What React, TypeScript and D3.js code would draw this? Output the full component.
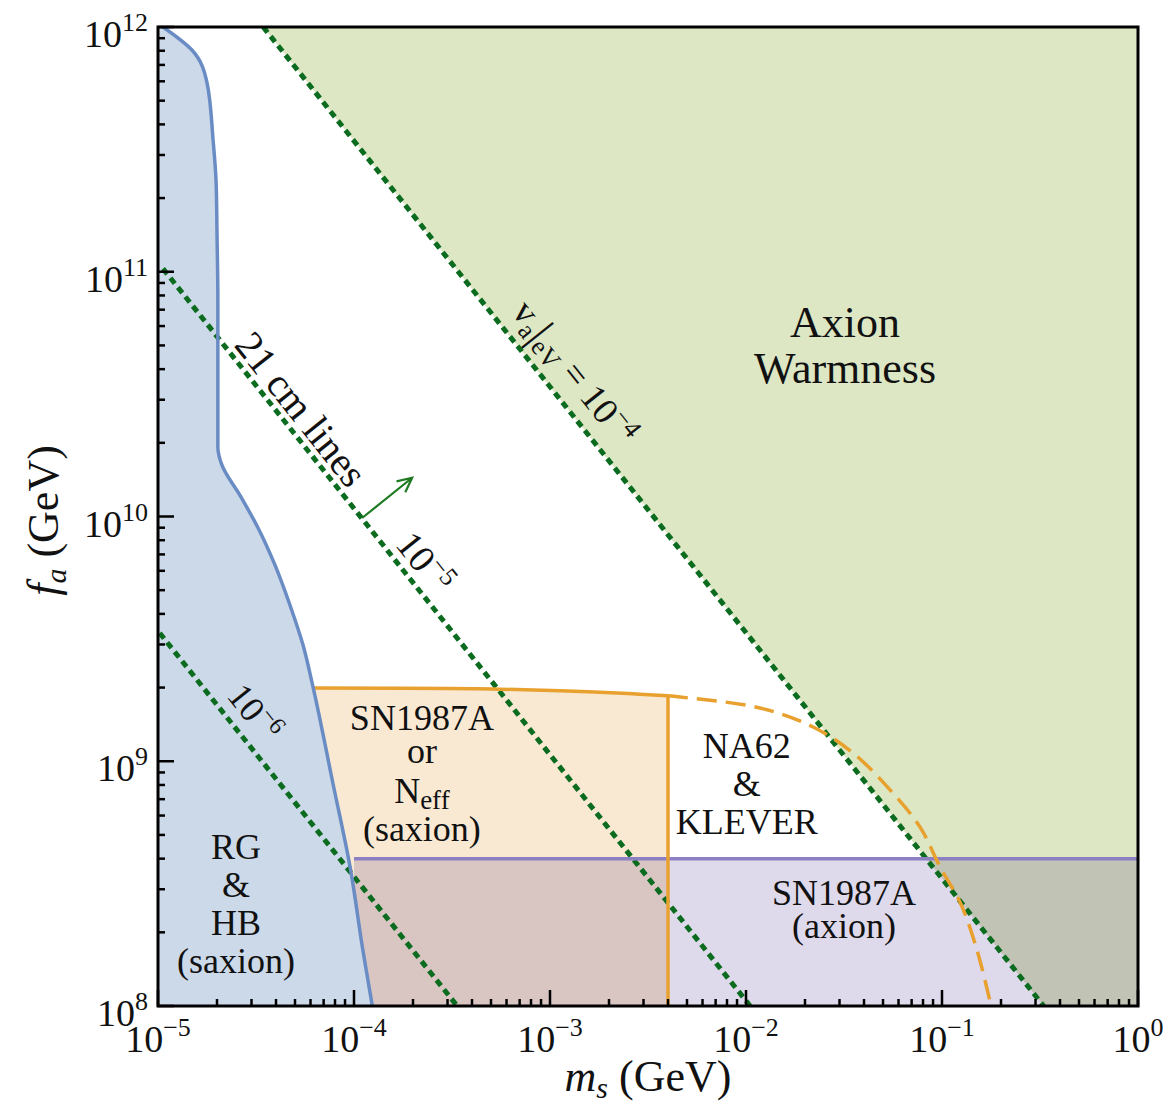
import React from 'react';
import * as d3 from 'd3';

const W = 1168;
const H = 1108;
const plotLeft = 158;
const plotRight = 1138;
const plotTop = 27;
const plotBottom = 1006;

const xTicks = [1e-5, 1e-4, 1e-3, 1e-2, 1e-1, 1];
const xTickExp = ['−5', '−4', '−3', '−2', '−1', '0'];
const yTicks = [1e8, 1e9, 1e10, 1e11, 1e12];
const yTickExp = ['8', '9', '10', '11', '12'];

// RG & HB (saxion) boundary
const rgHbMass = [1.06e-5, 1.49e-5, 1.78e-5, 1.91e-5, 1.98e-5, 2.0e-5, 2.02e-5, 2.02e-5, 2.12e-5, 2.62e-5, 3.24e-5, 3.95e-5, 4.71e-5, 5.49e-5, 6.18e-5, 7.8e-5, 9.55e-5, 1.11e-4, 1.24e-4];
const rgHbFa = [1e12, 8.05e11, 5.9e11, 3.45e11, 2.3e11, 1.44e11, 7.7e10, 1.92e10, 1.62e10, 1.22e10, 8.98e9, 6.34e9, 4.35e9, 2.99e9, 2.01e9, 8.15e8, 3.7e8, 1.69e8, 1e8];

// SN1987A or Neff (saxion) upper edge
const snSaxionMass = [6.18e-5, 5.56e-4, 2.2e-3, 4.0e-3];
const snSaxionFa = [1.99e9, 1.97e9, 1.9e9, 1.85e9];

// NA62 & KLEVER reach (dashed)
const na62Mass = [4.0e-3, 4.6e-3, 1.18e-2, 2.2e-2, 3.52e-2, 5.43e-2, 7.73e-2, 9.77e-2, 1.24e-1, 1.51e-1, 1.78e-1];
const na62Fa = [1.85e9, 1.83e9, 1.65e9, 1.38e9, 1.08e9, 7.64e8, 5.38e8, 3.7e8, 2.64e8, 1.69e8, 1e8];

// SN1987A (axion)
const snAxionMass = [1e-4, 1];
const snAxionFa = [4e8, 1e8];

// 21 cm lines, v_a/eV = 1e-4, 1e-5, 1e-6
const warmMass = [3.44e-5, 0.33];
const warmFa = [1e12, 1e8];
const line5Mass = [1.06e-5, 1.05e-2];
const line5Fa = [1.03e11, 1e8];
const line6Mass = [1.02e-5, 3.36e-4];
const line6Fa = [3.34e9, 1e8];

const arrowMass = [1.1e-4, 1.98e-4];
const arrowFa = [9.86e9, 1.44e10];

const serif = '"Liberation Serif", "Times New Roman", serif';
const dotGreen = '#0b6b1f';

const App = () => {
  const x = d3.scaleLog().domain([1e-5, 1]).range([plotLeft, plotRight]);
  const y = d3.scaleLog().domain([1e8, 1e12]).range([plotBottom, plotTop]);

  const pts = (ms: number[], fa: number[]) => ms.map((m, i) => [x(m), y(fa[i])] as [number, number]);
  const line = d3.line().curve(d3.curveCatmullRom.alpha(0.5));
  const lineY = d3.line().curve(d3.curveMonotoneY);
  const straight = d3.line();

  const rgPts = pts(rgHbMass, rgHbFa);
  const rgCurve = lineY(rgPts as any) as string;
  const rgFill = rgCurve + `L${x(1e-5)},${y(1e8)}L${x(1e-5)},${y(1e12)}Z`;

  const snPts = pts(snSaxionMass, snSaxionFa);
  const snFill = line(snPts as any) + `L${x(4e-3)},${y(1e8)}L${x(6e-5)},${y(1e8)}L${x(6e-5)},${snPts[0][1]}Z`;

  const warmPts = pts(warmMass, warmFa);
  const warmFill = straight([warmPts[0], [x(1), y(1e12)], [x(1), y(1e8)], warmPts[1]] as any) + 'Z';

  const purpleFill = straight([[x(snAxionMass[0]), y(snAxionFa[0])], [x(snAxionMass[1]), y(snAxionFa[0])], [x(snAxionMass[1]), y(snAxionFa[1])], [x(snAxionMass[0]), y(snAxionFa[1])]] as any) + 'Z';

  const dotted = [
    pts(warmMass, warmFa),
    pts(line5Mass, line5Fa),
    pts(line6Mass, line6Fa),
  ];
  const angle = (p: [number, number][]) => (Math.atan2(p[1][1] - p[0][1], p[1][0] - p[0][0]) * 180) / Math.PI;
  const ang = angle(dotted[1]);

  const minorX: number[] = [];
  for (let e = -5; e < 0; e++) for (let k = 2; k < 10; k++) minorX.push(k * Math.pow(10, e));
  const minorY: number[] = [];
  for (let e = 8; e < 12; e++) for (let k = 2; k < 10; k++) minorY.push(k * Math.pow(10, e));

  const a0 = [x(arrowMass[0]), y(arrowFa[0])];
  const a1 = [x(arrowMass[1]), y(arrowFa[1])];
  const aAng = Math.atan2(a1[1] - a0[1], a1[0] - a0[0]);
  const head = (d: number) => [a1[0] - 16 * Math.cos(aAng + d), a1[1] - 16 * Math.sin(aAng + d)];
  const h1 = head(0.45);
  const h2 = head(-0.45);

  const at = (m: number, f: number) => `translate(${x(m)},${y(f)})`;

  const block = (lines: React.ReactNode[], m: number, f: number, gap: number, size: number) => (
    <text transform={at(m, f)} textAnchor="middle" fontSize={size} fontFamily={serif} fill="#111">
      {lines.map((l, i) => (
        <tspan key={i} x={0} y={i * gap}>{l}</tspan>
      ))}
    </text>
  );

  const snX = x(2.22e-4);

  return (
    <svg width={W} height={H} style={{ position: 'absolute', left: 0, top: 0, background: '#fff' }} fontFamily={serif}>
      <defs>
        <clipPath id="plot">
          <rect x={plotLeft} y={plotTop} width={plotRight - plotLeft} height={plotBottom - plotTop} />
        </clipPath>
      </defs>
      <g clipPath="url(#plot)">
        <path d={warmFill} fill="#dde7c4" />
        <path d={snFill} fill="#f9e9d3" />
        <path d={purpleFill} fill="#dfd9ec" style={{ mixBlendMode: 'multiply' }} />
        <path d={rgFill} fill="#ccd9e8" />
        {dotted.map((p, i) => (
          <path key={i} d={straight(p as any) as string} stroke={dotGreen} strokeWidth={5} strokeDasharray="7 5" fill="none" />
        ))}
        <line x1={x(snAxionMass[0])} x2={x(snAxionMass[1])} y1={y(snAxionFa[0])} y2={y(snAxionFa[0])} stroke="#8c80c2" strokeWidth={3.5} />
        <path d={line(snPts as any) as string} stroke="#e8a02e" strokeWidth={3.5} fill="none" />
        <line x1={x(4e-3)} x2={x(4e-3)} y1={snPts[3][1]} y2={y(1e8)} stroke="#e8a02e" strokeWidth={3.5} />
        <path d={line(pts(na62Mass, na62Fa) as any) as string} stroke="#e8a02e" strokeWidth={3.5} strokeDasharray="20 9" fill="none" />
        <path d={rgCurve} stroke="#6a8cc4" strokeWidth={3.5} fill="none" />
        <path d={`M${a0[0]},${a0[1]}L${a1[0]},${a1[1]}M${h1[0]},${h1[1]}L${a1[0]},${a1[1]}L${h2[0]},${h2[1]}`} stroke="#1e7b22" strokeWidth={2.2} fill="none" />
      </g>

      {/* line labels */}
      <g fontFamily={serif} fill="#111">
        <text transform={`${at(5.3e-5, 2.72e10)} rotate(${ang})`} textAnchor="middle" fontSize={40} dy={12}>21 cm lines</text>
        <text transform={`${at(2.3e-4, 6.5e9)} rotate(${ang})`} textAnchor="middle" fontSize={38} dy={13}>
          10<tspan dy={-14} fontSize={26}>−5</tspan>
        </text>
        <text transform={`${at(3.13e-5, 1.59e9)} rotate(${ang})`} textAnchor="middle" fontSize={36} dy={13}>
          10<tspan dy={-14} fontSize={24}>−6</tspan>
        </text>
        <text transform={`${at(1.34e-3, 3.89e10)} rotate(${ang})`} textAnchor="middle" fontSize={37} dy={13}>
          v<tspan dy={7} fontSize={26}>a</tspan>
          <tspan dy={-3} fontSize={44}>|</tspan>
          <tspan dy={3} fontSize={26}>eV</tspan>
          <tspan dy={-7}>{' = 10'}</tspan>
          <tspan dy={-14} fontSize={26}>−4</tspan>
        </text>
      </g>

      {block(['Axion', 'Warmness'], 0.032, 5.4e10, 46, 44)}
      {block(['RG', '&', 'HB', '(saxion)'], 2.5e-5, 4.0e8, 38, 36)}
      <g fontSize={36} fontFamily={serif} fill="#111" textAnchor="middle">
        <text x={snX} y={730}>SN1987A</text>
        <text x={snX} y={763}>or</text>
        <text x={snX} y={803}>
          N<tspan dy={6} fontSize={27}>eff</tspan>
        </text>
        <text x={snX} y={841}>(saxion)</text>
      </g>
      {block(['NA62', '&', 'KLEVER'], 1.01e-2, 1.03e9, 38, 36)}
      {block(['SN1987A', '(axion)'], 0.0316, 2.58e8, 33, 36)}

      {/* frame and ticks */}
      <rect x={plotLeft} y={plotTop} width={plotRight - plotLeft} height={plotBottom - plotTop} fill="none" stroke="#000" strokeWidth={3} />
      <g stroke="#000" strokeWidth={2.5}>
        {xTicks.map((t) => (
          <line key={'xm' + t} x1={x(t)} x2={x(t)} y1={plotBottom} y2={plotBottom - 16} />
        ))}
        {minorX.map((t) => (
          <line key={'xn' + t} x1={x(t)} x2={x(t)} y1={plotBottom} y2={plotBottom - 7} />
        ))}
        {yTicks.map((t) => (
          <line key={'ym' + t} x1={plotLeft} x2={plotLeft + 16} y1={y(t)} y2={y(t)} />
        ))}
        {minorY.map((t) => (
          <line key={'yn' + t} x1={plotLeft} x2={plotLeft + 7} y1={y(t)} y2={y(t)} />
        ))}
      </g>
      <g fontFamily={serif} fill="#111">
        {xTicks.map((t, i) => (
          <text key={'xl' + t} x={x(t)} y={plotBottom + 46} textAnchor="middle" fontSize={38}>
            10<tspan dy={-16} fontSize={26}>{xTickExp[i]}</tspan>
          </text>
        ))}
        {yTicks.map((t, i) => (
          <text key={'yl' + t} x={plotLeft - 10} y={y(t) + 20} textAnchor="end" fontSize={38}>
            10<tspan dy={-16} fontSize={26}>{yTickExp[i]}</tspan>
          </text>
        ))}
        <text x={648} y={1091} textAnchor="middle" fontSize={44}>
          <tspan fontStyle="italic">m</tspan>
          <tspan dy={7} fontSize={30} fontStyle="italic">s</tspan>
          <tspan dy={-7}>{' (GeV)'}</tspan>
        </text>
        <text transform={`translate(58,${(plotTop + plotBottom) / 2 + 4}) rotate(-90)`} textAnchor="middle" fontSize={44}>
          <tspan fontStyle="italic">f</tspan>
          <tspan dy={8} fontSize={30} fontStyle="italic">a</tspan>
          <tspan dy={-8}>{' (GeV)'}</tspan>
        </text>
      </g>
    </svg>
  );
};

export default App;
